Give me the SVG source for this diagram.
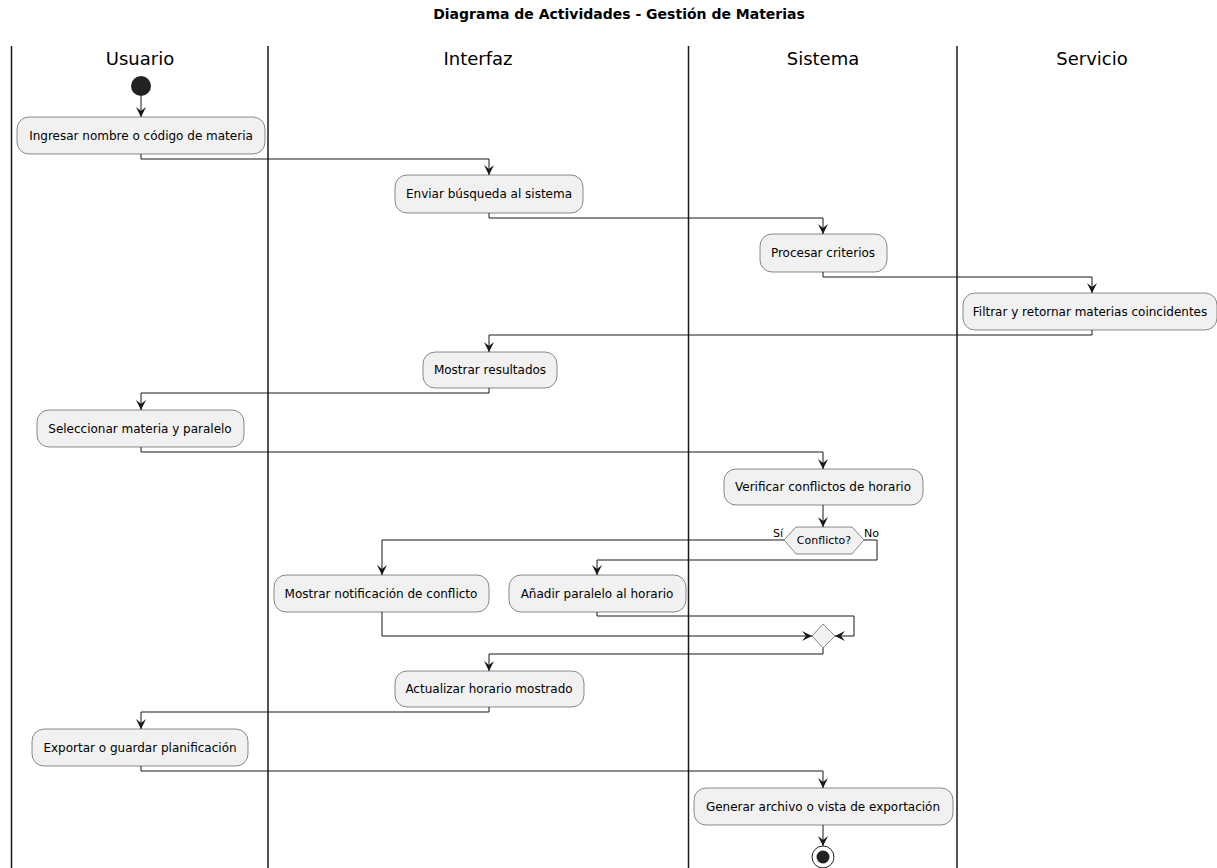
<svg xmlns="http://www.w3.org/2000/svg" width="1217" height="868" viewBox="0 0 1217 868">
  <style>
    .lane { stroke: #181818; stroke-width: 1.5; fill: none; }
    .lanehead { font-family: "DejaVu Sans", "Liberation Sans", sans-serif; font-size: 18px; fill: #000; text-anchor: middle; }
    .title { font-family: "DejaVu Sans", "Liberation Sans", sans-serif; font-size: 14px; font-weight: bold; fill: #000; text-anchor: middle; }
    .act rect { fill: #F1F1F1; stroke: #181818; stroke-width: 0.5; }
    .act text, .lbl { font-family: "DejaVu Sans", "Liberation Sans", sans-serif; font-size: 12px; fill: #000; text-anchor: middle; }
    .guard { font-family: "DejaVu Sans", "Liberation Sans", sans-serif; font-size: 11px; fill: #000; }
    .dec { fill: #F1F1F1; stroke: #181818; stroke-width: 0.5; }
    .flow { fill: none; stroke: #181818; stroke-width: 1; marker-end: url(#arrow); }
  </style>
  <defs>
    <marker id="arrow" markerUnits="userSpaceOnUse" markerWidth="10" markerHeight="10" viewBox="0 0 10 10" refX="10" refY="5" orient="auto">
      <polygon points="0,0 10,5 0,10 4,5" fill="#181818"/>
    </marker>
  </defs>
  <rect width="1217" height="868" fill="#FFFFFF"/>

  <text class="title" x="619" y="19">Diagrama de Actividades - Gestión de Materias</text>

  <!-- swimlanes -->
  <g id="lanes">
    <line class="lane" x1="11.5" y1="46" x2="11.5" y2="868"/>
    <line class="lane" x1="268" y1="46" x2="268" y2="868"/>
    <line class="lane" x1="688.5" y1="46" x2="688.5" y2="868"/>
    <line class="lane" x1="957" y1="46" x2="957" y2="868"/>
    <text class="lanehead" x="140" y="65">Usuario</text>
    <text class="lanehead" x="478" y="65">Interfaz</text>
    <text class="lanehead" x="823" y="65">Sistema</text>
    <text class="lanehead" x="1092" y="65">Servicio</text>
  </g>

  <!-- connectors -->
  <g id="connectors">
    <path class="flow" d="M141,96 V117"/>
    <path class="flow" d="M141,154 V159 H489 V175"/>
    <path class="flow" d="M489,213 V218 H823 V234"/>
    <path class="flow" d="M823,272 V277 H1092 V293"/>
    <path class="flow" d="M1092,330 V335 H489 V352"/>
    <path class="flow" d="M489,388 V393 H141 V410"/>
    <path class="flow" d="M141,447 V452 H823 V469"/>
    <path class="flow" d="M823,505 V527"/>
    <path class="flow" d="M784,540 H382 V575"/>
    <path class="flow" d="M864,540 H877 V560 H597 V575"/>
    <path class="flow" d="M382,612 V636 H812"/>
    <path class="flow" d="M597,612 V616 H854 V636 H835"/>
    <path class="flow" d="M823,648 V654 H489 V671"/>
    <path class="flow" d="M489,707 V712 H141 V729"/>
    <path class="flow" d="M141,766 V771 H823 V788"/>
    <path class="flow" d="M823,825 V846"/>
  </g>

  <g id="start">
    <circle cx="141" cy="86" r="10" fill="#222222"/>
  </g>

  <g id="n1" class="act">
    <rect x="17" y="117" width="248" height="37" rx="12"/>
    <text x="141" y="140">Ingresar nombre o código de materia</text>
  </g>
  <g id="n2" class="act">
    <rect x="395" y="175" width="188" height="38" rx="12"/>
    <text x="489" y="198">Enviar búsqueda al sistema</text>
  </g>
  <g id="n3" class="act">
    <rect x="760" y="234" width="127" height="38" rx="12"/>
    <text x="823" y="257">Procesar criterios</text>
  </g>
  <g id="n4" class="act">
    <rect x="963" y="293" width="254" height="37" rx="12"/>
    <text x="1090" y="316">Filtrar y retornar materias coincidentes</text>
  </g>
  <g id="n5" class="act">
    <rect x="423" y="352" width="134" height="36" rx="12"/>
    <text x="490" y="374">Mostrar resultados</text>
  </g>
  <g id="n6" class="act">
    <rect x="37" y="410" width="207" height="37" rx="12"/>
    <text x="140" y="433">Seleccionar materia y paralelo</text>
  </g>
  <g id="n7" class="act">
    <rect x="724" y="469" width="199" height="36" rx="12"/>
    <text x="823" y="491">Verificar conflictos de horario</text>
  </g>

  <g id="d1">
    <polygon class="dec" points="784,540 796,527 852,527 864,540 852,554 796,554"/>
    <text class="lbl" x="824" y="544" style="font-size:11px">Conflicto?</text>
    <text class="guard" x="783" y="537" text-anchor="end">Sí</text>
    <text class="guard" x="864" y="537">No</text>
  </g>

  <g id="n8" class="act">
    <rect x="274" y="575" width="215" height="37" rx="12"/>
    <text x="381" y="598">Mostrar notificación de conflicto</text>
  </g>
  <g id="n9" class="act">
    <rect x="509" y="575" width="177" height="37" rx="12"/>
    <text x="597" y="598">Añadir paralelo al horario</text>
  </g>

  <g id="merge">
    <polygon class="dec" points="812,636 823,624 835,636 823,648"/>
  </g>

  <g id="n10" class="act">
    <rect x="395" y="671" width="189" height="36" rx="12"/>
    <text x="489" y="693">Actualizar horario mostrado</text>
  </g>
  <g id="n11" class="act">
    <rect x="32" y="729" width="216" height="37" rx="12"/>
    <text x="140" y="752">Exportar o guardar planificación</text>
  </g>
  <g id="n12" class="act">
    <rect x="694" y="788" width="259" height="37" rx="12"/>
    <text x="823" y="811">Generar archivo o vista de exportación</text>
  </g>

  <g id="end">
    <circle cx="823" cy="857" r="11" fill="#FFFFFF" stroke="#222222" stroke-width="1"/>
    <circle cx="823" cy="857" r="6.5" fill="#222222"/>
  </g>
</svg>
